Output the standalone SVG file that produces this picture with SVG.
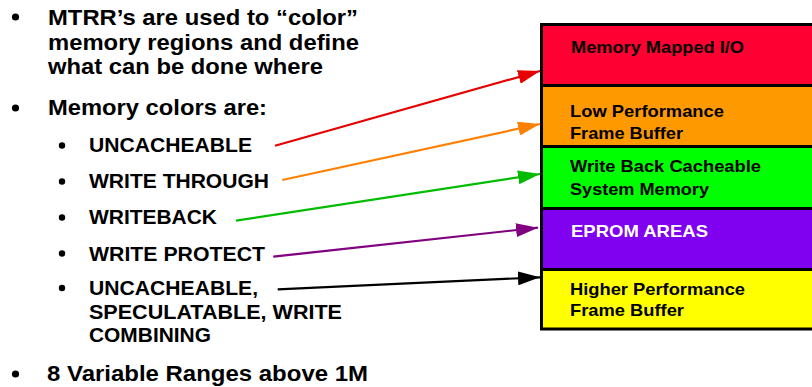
<svg xmlns="http://www.w3.org/2000/svg" width="812" height="387" viewBox="0 0 812 387">
  <defs>
    <style>
      text { font-family: "Liberation Sans", Arial, sans-serif; font-weight: bold; fill: #000; }
      .main { font-size: 22px; }
      .sub { font-size: 19.5px; }
      .box { font-size: 17px; }
      .wt { fill: #fff; }
      .band { stroke: #000; stroke-width: 3; }
      .conn { fill: none; stroke-width: 2.2; }
    </style>
    <marker id="ah-red" markerUnits="userSpaceOnUse" markerWidth="22" markerHeight="14" refX="22" refY="7" orient="auto"><path d="M0,0 L22,7 L0,14 z" fill="#E60000"/></marker>
    <marker id="ah-orange" markerUnits="userSpaceOnUse" markerWidth="22" markerHeight="14" refX="22" refY="7" orient="auto"><path d="M0,0 L22,7 L0,14 z" fill="#FF8000"/></marker>
    <marker id="ah-green" markerUnits="userSpaceOnUse" markerWidth="22" markerHeight="14" refX="22" refY="7" orient="auto"><path d="M0,0 L22,7 L0,14 z" fill="#00BB00"/></marker>
    <marker id="ah-purple" markerUnits="userSpaceOnUse" markerWidth="22" markerHeight="14" refX="22" refY="7" orient="auto"><path d="M0,0 L22,7 L0,14 z" fill="#800080"/></marker>
    <marker id="ah-black" markerUnits="userSpaceOnUse" markerWidth="22" markerHeight="14" refX="22" refY="7" orient="auto"><path d="M0,0 L22,7 L0,14 z" fill="#000"/></marker>
  </defs>

  <rect width="812" height="387" fill="#fff"/>

  <!-- bullet list -->
  <g id="bullets">
    <circle cx="15.5" cy="17" r="3.6"/>
    <text class="main" x="48" y="25" textLength="310" lengthAdjust="spacingAndGlyphs">MTRR’s are used to “color”</text>
    <text class="main" x="48" y="49.5" textLength="311" lengthAdjust="spacingAndGlyphs">memory regions and define</text>
    <text class="main" x="48" y="74" textLength="275" lengthAdjust="spacingAndGlyphs">what can be done where</text>

    <circle cx="15.5" cy="108" r="3.6"/>
    <text class="main" x="48" y="115" textLength="219" lengthAdjust="spacingAndGlyphs">Memory colors are:</text>

    <circle cx="62" cy="145.5" r="3.2"/>
    <text class="sub" x="89" y="152.3" textLength="163" lengthAdjust="spacingAndGlyphs">UNCACHEABLE</text>
    <circle cx="62" cy="181.5" r="3.2"/>
    <text class="sub" x="89" y="188.3" textLength="180" lengthAdjust="spacingAndGlyphs">WRITE THROUGH</text>
    <circle cx="62" cy="217.5" r="3.2"/>
    <text class="sub" x="89" y="224.3" textLength="128" lengthAdjust="spacingAndGlyphs">WRITEBACK</text>
    <circle cx="62" cy="253.5" r="3.2"/>
    <text class="sub" x="89" y="260.5" textLength="176" lengthAdjust="spacingAndGlyphs">WRITE PROTECT</text>
    <circle cx="62" cy="288" r="3.2"/>
    <text class="sub" x="89" y="295" textLength="169" lengthAdjust="spacingAndGlyphs">UNCACHEABLE,</text>
    <text class="sub" x="89" y="319.3" textLength="253" lengthAdjust="spacingAndGlyphs">SPECULATABLE, WRITE</text>
    <text class="sub" x="89" y="341.7" textLength="122" lengthAdjust="spacingAndGlyphs">COMBINING</text>

    <circle cx="15.5" cy="374" r="3.6"/>
    <text class="main" x="47" y="380.7" textLength="321" lengthAdjust="spacingAndGlyphs">8 Variable Ranges above 1M</text>
  </g>

  <!-- memory map column -->
  <g id="mmio">
    <rect class="band" x="541.5" y="24.5" width="300" height="61" fill="#FF0033"/>
    <text class="box" x="571" y="53.3" textLength="173" lengthAdjust="spacingAndGlyphs">Memory Mapped I/O</text>
  </g>
  <g id="lowperf">
    <rect class="band" x="541.5" y="85.5" width="300" height="61" fill="#FF9900"/>
    <text class="box" x="570" y="116.7" textLength="154" lengthAdjust="spacingAndGlyphs">Low Performance</text>
    <text class="box" x="570" y="138.5" textLength="113" lengthAdjust="spacingAndGlyphs">Frame Buffer</text>
  </g>
  <g id="wbmem">
    <rect class="band" x="541.5" y="146.5" width="300" height="62" fill="#00FF00"/>
    <text class="box" x="570" y="172" textLength="191" lengthAdjust="spacingAndGlyphs">Write Back Cacheable</text>
    <text class="box" x="570" y="194.5" textLength="139" lengthAdjust="spacingAndGlyphs">System Memory</text>
  </g>
  <g id="eprom">
    <rect class="band" x="541.5" y="208.5" width="300" height="61" fill="#8000F0"/>
    <text class="box wt" x="571" y="236.7" textLength="137" lengthAdjust="spacingAndGlyphs">EPROM AREAS</text>
  </g>
  <g id="hiperf">
    <rect class="band" x="541.5" y="269.5" width="300" height="59.5" fill="#FFFF00"/>
    <text class="box" x="570" y="294.5" textLength="175" lengthAdjust="spacingAndGlyphs">Higher Performance</text>
    <text class="box" x="570" y="316" textLength="114" lengthAdjust="spacingAndGlyphs">Frame Buffer</text>
  </g>

  <!-- connectors -->
  <g id="connectors">
    <line class="conn" x1="275" y1="145.7" x2="540" y2="71" stroke="#E60000" marker-end="url(#ah-red)"/>
    <line class="conn" x1="282.3" y1="180" x2="540" y2="124" stroke="#FF8000" marker-end="url(#ah-orange)"/>
    <line class="conn" x1="236" y1="220.7" x2="540" y2="174" stroke="#00BB00" marker-end="url(#ah-green)"/>
    <line class="conn" x1="273.3" y1="256.7" x2="538" y2="227.7" stroke="#800080" marker-end="url(#ah-purple)"/>
    <line class="conn" x1="277.7" y1="289.3" x2="540" y2="277.3" stroke="#000" marker-end="url(#ah-black)"/>
  </g>
</svg>
